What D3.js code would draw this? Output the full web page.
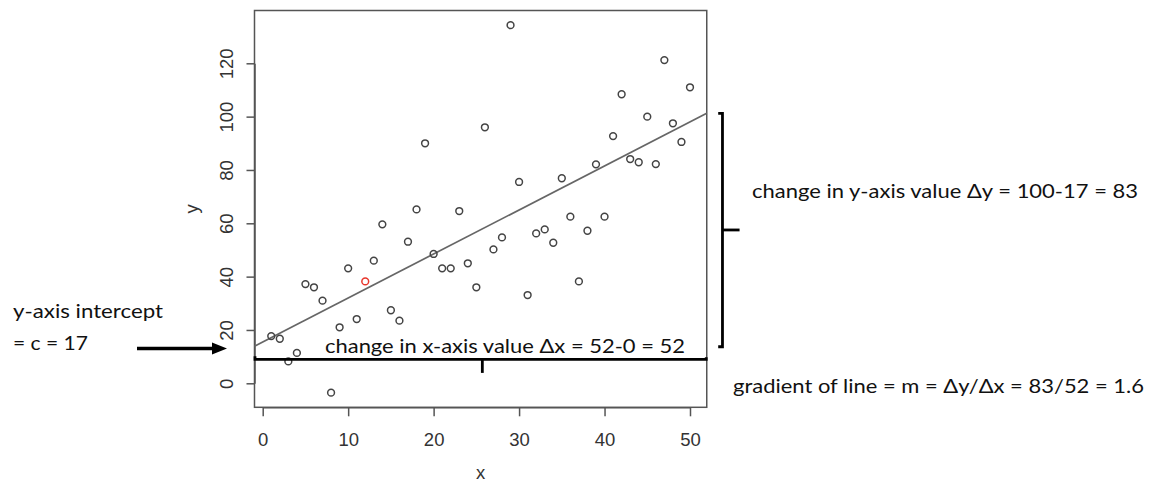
<!DOCTYPE html>
<html>
<head>
<meta charset="utf-8">
<script src="https://cdn.jsdelivr.net/npm/d3@7"></script>
<style>
  body { margin: 0; background: #fff; }
  svg { display: block; }
</style>
</head>
<body>
<div id="chart"></div>
<script>
// data
const xValues = [1, 2, 3, 4, 5, 6, 7, 8, 9, 10,
    11, 12, 13, 14, 15, 16, 17, 18, 19, 20,
    21, 22, 23, 24, 25, 26, 27, 28, 29, 30,
    31, 32, 33, 34, 35, 36, 37, 38, 39, 40,
    41, 42, 43, 44, 45, 46, 47, 48, 49, 50];
const yValues = [17.7, 16.7, 8.2, 11.4, 37.2, 36.0, 31.0, -3.5, 21.0, 43.1,
    24.1, 38.2, 46.0, 59.6, 27.4, 23.5, 53.1, 65.2, 90.0, 48.5,
    43.1, 43.1, 64.6, 45.0, 36.0, 96.0, 50.2, 54.7, 134.3, 75.5,
    33.1, 56.2, 57.7, 52.7, 76.9, 62.5, 38.2, 57.2, 82.1, 62.5,
    92.7, 108.4, 84.1, 82.9, 100.0, 82.2, 121.2, 97.5, 90.5, 111.0];
const highlightX = 12;
const xTicks = [0, 10, 20, 30, 40, 50];
const yTicks = [0, 20, 40, 60, 80, 100, 120];
const xLimits = [-0.96, 51.96];
const yLimits = [-9, 139.8];
const lineIntercept = 15.5;
const lineSlope = 1.65;

// annotation positions, in data units
const xChangeLine = { y: 9.0, x0: -0.9, x1: 51.9, tickX: 25.7, tickY: 3.9 };
const yBracket = { x: 53.8, y0: 13.7, y1: 101.2, mid: 57.5, midEnd: 55.8, serif: 53.3 };

const width = 1151, height = 483;

const svg = d3.select('#chart')
    .append('svg')
    .attr('width', width)
    .attr('height', height);

const xScale = d3.scaleLinear().domain([0, 50]).range([262.7, 690]);
const yScale = d3.scaleLinear().domain([0, 120]).range([383.3, 63.3]);

const axisFont = '"Liberation Sans", Arial, Helvetica, sans-serif';
const noteFont = 'Lato, "Open Sans", sans-serif';

const boxLeft = xScale(xLimits[0]), boxRight = xScale(xLimits[1]);
const boxTop = yScale(yLimits[1]), boxBottom = yScale(yLimits[0]);

// plot box
svg.append('rect')
    .attr('x', boxLeft)
    .attr('y', boxTop)
    .attr('width', boxRight - boxLeft)
    .attr('height', boxBottom - boxTop)
    .attr('fill', 'none')
    .attr('stroke', '#555')
    .attr('stroke-width', 1.5);

// y axis
const yAxis = d3.axisLeft(yScale)
    .tickValues(yTicks)
    .tickSize(8)
    .tickSizeOuter(0)
    .tickFormat(d3.format('d'));

const gy = svg.append('g')
    .attr('transform', `translate(${boxLeft}, 0)`)
    .call(yAxis);
gy.select('.domain').attr('stroke', '#555').attr('stroke-width', 1.5);
gy.selectAll('.tick line').attr('stroke', '#555').attr('stroke-width', 1.5);
gy.selectAll('.tick text')
    .attr('x', null).attr('dy', null)
    .attr('transform', 'translate(-21, 0) rotate(-90)')
    .attr('text-anchor', 'middle')
    .attr('font-family', axisFont)
    .attr('font-size', 18.5)
    .attr('fill', '#333');

// x axis
const xAxis = d3.axisBottom(xScale)
    .tickValues(xTicks)
    .tickSize(9)
    .tickSizeOuter(0)
    .tickFormat(d3.format('d'));

const gx = svg.append('g')
    .attr('transform', `translate(0, ${boxBottom})`)
    .call(xAxis);
gx.select('.domain').attr('stroke', '#555').attr('stroke-width', 1.5);
gx.selectAll('.tick line').attr('stroke', '#555').attr('stroke-width', 1.5);
gx.selectAll('.tick text')
    .attr('y', 39).attr('dy', null)
    .attr('font-family', axisFont)
    .attr('font-size', 18.5)
    .attr('fill', '#333');

// axis titles
svg.append('text')
    .attr('x', (boxLeft + boxRight) / 2)
    .attr('y', 479)
    .attr('text-anchor', 'middle')
    .attr('font-family', axisFont)
    .attr('font-size', 18.5)
    .attr('fill', '#333')
    .text('x');

svg.append('text')
    .attr('transform', `translate(198, ${(boxTop + boxBottom) / 2}) rotate(-90)`)
    .attr('text-anchor', 'middle')
    .attr('font-family', axisFont)
    .attr('font-size', 18.5)
    .attr('fill', '#333')
    .text('y');

// fitted line
svg.append('line')
    .attr('x1', xScale(xLimits[0]))
    .attr('y1', yScale(lineIntercept + lineSlope * xLimits[0]))
    .attr('x2', xScale(xLimits[1]))
    .attr('y2', yScale(lineIntercept + lineSlope * xLimits[1]))
    .attr('stroke', '#666')
    .attr('stroke-width', 1.7);

// points
svg.selectAll('.pt')
    .data(xValues.map((x, i) => [x, yValues[i]]))
    .enter()
    .append('circle')
    .attr('class', 'pt')
    .attr('cx', d => xScale(d[0]))
    .attr('cy', d => yScale(d[1]))
    .attr('r', 3.4)
    .attr('fill', 'none')
    .attr('stroke', d => d[0] === highlightX ? '#e8352b' : '#444')
    .attr('stroke-width', 1.5);

// annotations
const ink = '#000';

// change in x line with its middle tick
svg.append('path')
    .attr('d', `M${xScale(xChangeLine.x0)},${yScale(xChangeLine.y) - 3}
        L${xScale(xChangeLine.x0)},${yScale(xChangeLine.y)}
        L${xScale(xChangeLine.x1)},${yScale(xChangeLine.y)}
        L${xScale(xChangeLine.x1)},${yScale(xChangeLine.y) - 2}`)
    .attr('fill', 'none')
    .attr('stroke', ink)
    .attr('stroke-width', 2.8);
svg.append('line')
    .attr('x1', xScale(xChangeLine.tickX)).attr('x2', xScale(xChangeLine.tickX))
    .attr('y1', yScale(xChangeLine.y)).attr('y2', yScale(xChangeLine.tickY))
    .attr('stroke', ink)
    .attr('stroke-width', 2.8);

// change in y bracket
svg.append('path')
    .attr('d', `M${xScale(yBracket.serif)},${yScale(yBracket.y1)}
        L${xScale(yBracket.x)},${yScale(yBracket.y1)}
        L${xScale(yBracket.x)},${yScale(yBracket.y0)}
        L${xScale(yBracket.serif)},${yScale(yBracket.y0)}`)
    .attr('fill', 'none')
    .attr('stroke', ink)
    .attr('stroke-width', 2.8);
svg.append('line')
    .attr('x1', xScale(yBracket.x)).attr('x2', xScale(yBracket.midEnd))
    .attr('y1', yScale(yBracket.mid)).attr('y2', yScale(yBracket.mid))
    .attr('stroke', ink)
    .attr('stroke-width', 2.8);

// intercept arrow
svg.append('line')
    .attr('x1', 137).attr('x2', 215)
    .attr('y1', 348.5).attr('y2', 348.5)
    .attr('stroke', ink)
    .attr('stroke-width', 3.6);
svg.append('path')
    .attr('d', 'M212,342.5 L227,348.5 L212,354.5 Z')
    .attr('fill', ink);

// annotation texts
const notes = [
    { text: 'change in y-axis value \u0394y = 100-17 = 83', x: 752, y: 198, w: 386 },
    { text: 'gradient of line = m = \u0394y/\u0394x = 83/52 = 1.6', x: 733, y: 393, w: 411 },
    { text: 'change in x-axis value \u0394x = 52-0 = 52', x: 325, y: 353, w: 360 },
    { text: 'y-axis intercept', x: 13, y: 318, w: 150 },
    { text: '= c = 17', x: 13, y: 350, w: 75 }
];

svg.selectAll('.note')
    .data(notes)
    .enter()
    .append('text')
    .attr('class', 'note')
    .attr('x', d => d.x)
    .attr('y', d => d.y)
    .attr('textLength', d => d.w)
    .attr('lengthAdjust', 'spacingAndGlyphs')
    .attr('font-family', noteFont)
    .attr('font-size', 19)
    .attr('fill', '#111')
    .text(d => d.text);
</script>
</body>
</html>
